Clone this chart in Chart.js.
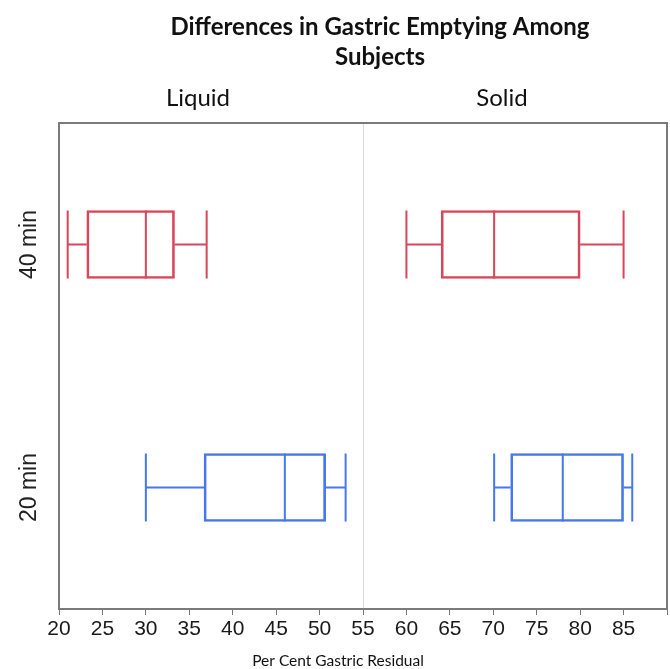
<!DOCTYPE html>
<html>
<head>
<meta charset="utf-8">
<script src="https://cdn.jsdelivr.net/npm/chart.js@4.4.1/dist/chart.umd.min.js"></script>
<style>
  html, body { margin: 0; padding: 0; background: #fff; }
  #wrap { width: 670px; height: 669px; }
</style>
</head>
<body>
<div id="wrap"><canvas id="chart"></canvas></div>
<script>
// data
var categories = ['40 min', '20 min'];
var panels = ['Liquid', 'Solid'];
var panelSplit = 55;

var liquidMin    = [21,   30];
var liquidQ1     = [23.2, 36.7];
var liquidMedian = [30,   46];
var liquidQ3     = [33.3, 50.7];
var liquidMax    = [37,   53];

var solidMin    = [60,   70.1];
var solidQ1     = [64,   72];
var solidMedian = [70.1, 78];
var solidQ3     = [80,   85];
var solidMax    = [85,   86];

var xMin = 20, xMax = 90, xStep = 5;
var catColors = ['#d8465a', '#4677ee'];

var titleLines = ['Differences in Gastric Emptying Among', 'Subjects'];
var xTitle = 'Per Cent Gastric Residual';

function boxData(q1, q3) {
  return categories.map(function (c, i) { return [q1[i], q3[i]]; });
}

var boxPlugin = {
  id: 'boxparts',
  beforeDatasetsDraw: function (chart) {
    var ctx = chart.ctx, a = chart.chartArea, x = chart.scales.x;
    var px = Math.round(x.getPixelForValue(panelSplit)) + 0.5;
    ctx.save();
    ctx.strokeStyle = '#d9d9d9';
    ctx.lineWidth = 1;
    ctx.beginPath();
    ctx.moveTo(px, a.top);
    ctx.lineTo(px, a.bottom);
    ctx.stroke();
    ctx.restore();
  },
  afterDatasetsDraw: function (chart) {
    var ctx = chart.ctx, x = chart.scales.x;
    ctx.save();
    ctx.lineWidth = 2;
    chart.data.datasets.forEach(function (ds, d) {
      var meta = chart.getDatasetMeta(d);
      meta.data.forEach(function (el, i) {
        var y = el.y, h = el.height / 2;
        var lo = x.getPixelForValue(ds.whiskerMin[i]);
        var q1 = x.getPixelForValue(ds.data[i][0]);
        var q3 = x.getPixelForValue(ds.data[i][1]);
        var hi = x.getPixelForValue(ds.whiskerMax[i]);
        var md = x.getPixelForValue(ds.median[i]);
        ctx.strokeStyle = catColors[i];
        ctx.beginPath();
        ctx.moveTo(lo, y); ctx.lineTo(q1, y);
        ctx.moveTo(q3, y); ctx.lineTo(hi, y);
        ctx.moveTo(lo, y - h); ctx.lineTo(lo, y + h);
        ctx.moveTo(hi, y - h); ctx.lineTo(hi, y + h);
        ctx.moveTo(md, y - h); ctx.lineTo(md, y + h);
        ctx.stroke();
      });
    });
    ctx.restore();
  },
  afterDraw: function (chart) {
    var ctx = chart.ctx, a = chart.chartArea, x = chart.scales.x, yS = chart.scales.y;
    ctx.save();
    // frame
    ctx.strokeStyle = '#7a7a7a';
    ctx.lineWidth = 2;
    ctx.strokeRect(a.left, a.top, a.right - a.left, a.bottom - a.top);
    // title
    ctx.fillStyle = '#111';
    ctx.textAlign = 'center';
    ctx.textBaseline = 'middle';
    ctx.font = 'bold 24px Lato';
    titleLines.forEach(function (t, i) { ctx.fillText(t, 380, 27 + i * 30); });
    // panel headers
    ctx.font = '24px Lato';
    ctx.fillText(panels[0], x.getPixelForValue(36), 98);
    ctx.fillText(panels[1], x.getPixelForValue(71), 98);
    // axis title
    ctx.font = '15.5px Lato';
    ctx.fillText(xTitle, 338, 661);
    // category labels, rotated
    ctx.fillStyle = '#222';
    ctx.font = '23px "Liberation Sans"';
    categories.forEach(function (c, i) {
      ctx.save();
      ctx.translate(30, yS.getPixelForValue(i));
      ctx.rotate(-Math.PI / 2);
      ctx.fillText(c, 0, 0);
      ctx.restore();
    });
    ctx.restore();
  }
};

new Chart(document.getElementById('chart'), {
  type: 'bar',
  data: {
    labels: categories,
    datasets: [
      {
        label: panels[0],
        data: boxData(liquidQ1, liquidQ3),
        whiskerMin: liquidMin, whiskerMax: liquidMax, median: liquidMedian,
        borderColor: catColors, backgroundColor: 'rgba(0,0,0,0)',
        borderWidth: 2, borderSkipped: false, grouped: false, barThickness: 68
      },
      {
        label: panels[1],
        data: boxData(solidQ1, solidQ3),
        whiskerMin: solidMin, whiskerMax: solidMax, median: solidMedian,
        borderColor: catColors, backgroundColor: 'rgba(0,0,0,0)',
        borderWidth: 2, borderSkipped: false, grouped: false, barThickness: 68
      }
    ]
  },
  options: {
    indexAxis: 'y',
    responsive: true,
    maintainAspectRatio: false,
    animation: false,
    layout: { padding: { top: 123, right: 3, left: 0, bottom: 0 } },
    plugins: {
      legend: { display: false },
      tooltip: { enabled: false },
      title: { display: false }
    },
    scales: {
      x: {
        min: xMin, max: xMax,
        afterFit: function (s) { s.height = 60; },
        ticks: {
          stepSize: xStep,
          color: '#1a1a1a',
          padding: 2,
          font: { family: 'Liberation Sans', size: 21 },
          callback: function (v) { return v === xMax ? '' : v; }
        },
        grid: { drawOnChartArea: false, drawTicks: true, tickLength: 6, color: '#777' },
        border: { display: false },
        title: { display: false }
      },
      y: {
        afterFit: function (s) { s.width = 59; },
        ticks: { display: false },
        grid: { display: false },
        border: { display: false }
      }
    }
  },
  plugins: [boxPlugin]
});
</script>
</body>
</html>
